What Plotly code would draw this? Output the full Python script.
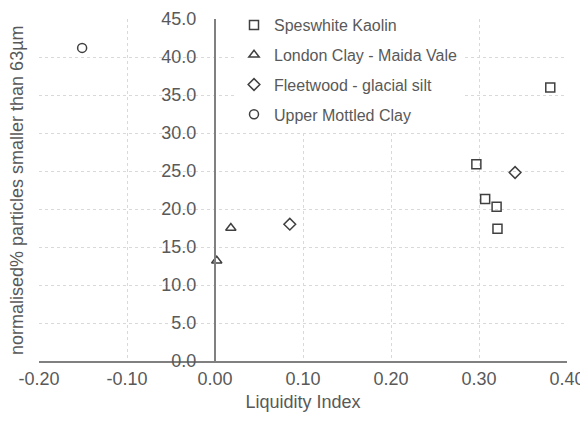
import plotly.graph_objects as go

speswhite_x = [0.381, 0.297, 0.307, 0.320, 0.321]
speswhite_y = [36.0, 25.9, 21.3, 20.3, 17.4]
london_x = [0.002, 0.018]
london_y = [13.2, 17.5]
fleetwood_x = [0.085, 0.341]
fleetwood_y = [18.0, 24.8]
upper_x = [-0.151]
upper_y = [41.2]

x_tickvals = [-0.2, -0.1, 0.0, 0.1, 0.2, 0.3, 0.4]
x_ticktext = ["-0.20", "-0.10", "0.00", "0.10", "0.20", "0.30", "0.40"]

series = [
    ("Speswhite Kaolin", speswhite_x, speswhite_y, "square-open"),
    ("London Clay - Maida Vale", london_x, london_y, "triangle-up-open"),
    ("Fleetwood - glacial silt", fleetwood_x, fleetwood_y, "diamond-open"),
    ("Upper Mottled Clay", upper_x, upper_y, "circle-open"),
]

FONT = "Liberation Sans, Arial, sans-serif"
TXT = "#595959"
W, H = 580, 414
L, R, T, B = 31, 21, 11, 61
PW = W - L - R

fig = go.Figure()
for i, (name, xs, ys, sym) in enumerate(series):
    fig.add_trace(go.Scatter(
        x=xs, y=ys, mode="markers", name=name, legendgroup=f"g{i}",
        marker=dict(symbol=sym, size=9, color="#404040",
                    line=dict(color="#404040", width=1.5)),
    ))

fig.update_layout(
    width=W, height=H,
    margin=dict(l=L, r=R, t=T, b=B, autoexpand=False),
    paper_bgcolor="white", plot_bgcolor="white",
    font=dict(family=FONT, size=18, color=TXT),
    showlegend=True,
    legend=dict(x=226 / W, y=1.0, xref="container", yref="container",
                xanchor="left", yanchor="top",
                bgcolor="white", font=dict(size=16, color=TXT),
                tracegroupgap=6, itemwidth=30),
    xaxis=dict(range=[-0.2, 0.4], tickvals=x_tickvals, ticktext=x_ticktext,
               showgrid=True, gridcolor="#d9d9d9", griddash="dot", gridwidth=1,
               zeroline=False, showline=True, linecolor="#808080", linewidth=2,
               ticks="", tickfont=dict(size=18, color=TXT), automargin=False,
               ticklabeloverflow="allow",
               title=dict(text="Liquidity Index", font=dict(size=18, color=TXT), standoff=8),
               domain=[0, 1]),
    yaxis=dict(range=[0, 45], dtick=5, tickformat=".1f",
               showgrid=True, gridcolor="#d9d9d9", griddash="dot", gridwidth=1,
               zeroline=False, showline=True, linecolor="#808080", linewidth=2,
               ticks="", tickfont=dict(size=18, color=TXT), automargin=False,
               ticklabeloverflow="allow",
               anchor="free", position=1/3, ticklabelstandoff=14),
    annotations=[dict(text="normalised% particles smaller than 63µm",
                      x=-(L - 9) / PW, y=0.5, xref="paper", yref="paper",
                      xanchor="center", yanchor="middle", textangle=-90,
                      showarrow=False, font=dict(size=18, color=TXT))],
)

fig.write_html("out.html")
